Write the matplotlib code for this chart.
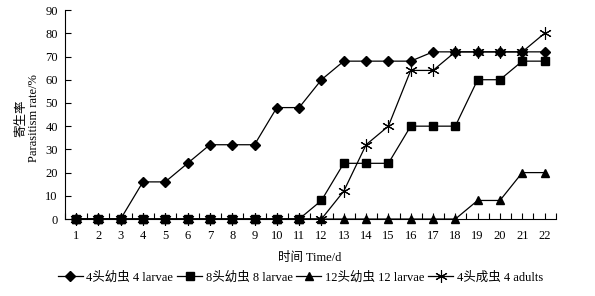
import matplotlib
matplotlib.use("Agg")
import matplotlib.pyplot as plt
from matplotlib.ticker import FixedLocator

plt.rcParams['font.family'] = ['Liberation Serif', 'Noto Sans CJK SC']

days = list(range(1, 23))
larvae4 = [0, 0, 0, 16, 16, 24, 32, 32, 32, 48, 48, 60, 68, 68, 68, 68, 72, 72, 72, 72, 72, 72]
larvae8 = [0, 0, 0, 0, 0, 0, 0, 0, 0, 0, 0, 8, 24, 24, 24, 40, 40, 40, 60, 60, 68, 68]
larvae12 = [0, 0, 0, 0, 0, 0, 0, 0, 0, 0, 0, 0, 0, 0, 0, 0, 0, 0, 8, 8, 20, 20]
adults4 = [0, 0, 0, 0, 0, 0, 0, 0, 0, 0, 0, 0, 12, 32, 40, 64, 64, 72, 72, 72, 72, 80]
labels = ["4头幼虫 4 larvae", "8头幼虫 8 larvae", "12头幼虫 12 larvae", "4头成虫 4 adults"]

fig = plt.figure(figsize=(5.95, 2.96), dpi=100)
ax = fig.add_axes([0.109, 0.26, 0.825, 0.706])

ax.plot(days, larvae4, color='black', lw=0.9, marker='D', ms=5, label=labels[0], clip_on=False)
ax.plot(days, larvae8, color='black', lw=0.9, marker='s', ms=5.5, label=labels[1], clip_on=False)
ax.plot(days, larvae12, color='black', lw=0.9, marker='^', ms=5.5, label=labels[2], clip_on=False)
ax.plot(days, adults4, color='black', lw=0.9, marker=(6, 2, 0), ms=9, mew=0.8, label=labels[3], clip_on=False)

ax.set_xlim(0.5, 22.5)
ax.set_ylim(0, 90)
ax.set_yticks(range(0, 91, 10))
ax.set_xticks(days)
ax.xaxis.set_minor_locator(FixedLocator([d + 0.5 for d in range(0, 23)]))
ax.tick_params(axis='x', which='both', direction='in', length=4, width=0.8, labelsize=9, pad=8)
ax.tick_params(axis='y', direction='in', length=4, width=0.8, labelsize=9, pad=5)
for s in ['top', 'right']:
    ax.spines[s].set_visible(False)
for s in ['left', 'bottom']:
    ax.spines[s].set_linewidth(0.8)

fig.text(0.52, 0.128, "时间 Time/d", ha='center', va='center', fontsize=9)
fig.text(0.035, 0.6, "寄生率", rotation=90, ha='center', va='center', fontsize=9)
fig.text(0.057, 0.6, "Parasitism rate/%", rotation=90, ha='center', va='center', fontsize=9)

fig.legend(loc='center', bbox_to_anchor=(0.505, 0.063), ncol=4, frameon=False, fontsize=9,
           handlelength=2.0, handletextpad=0.3, columnspacing=0.3)

fig.savefig("out.png", dpi=100)
